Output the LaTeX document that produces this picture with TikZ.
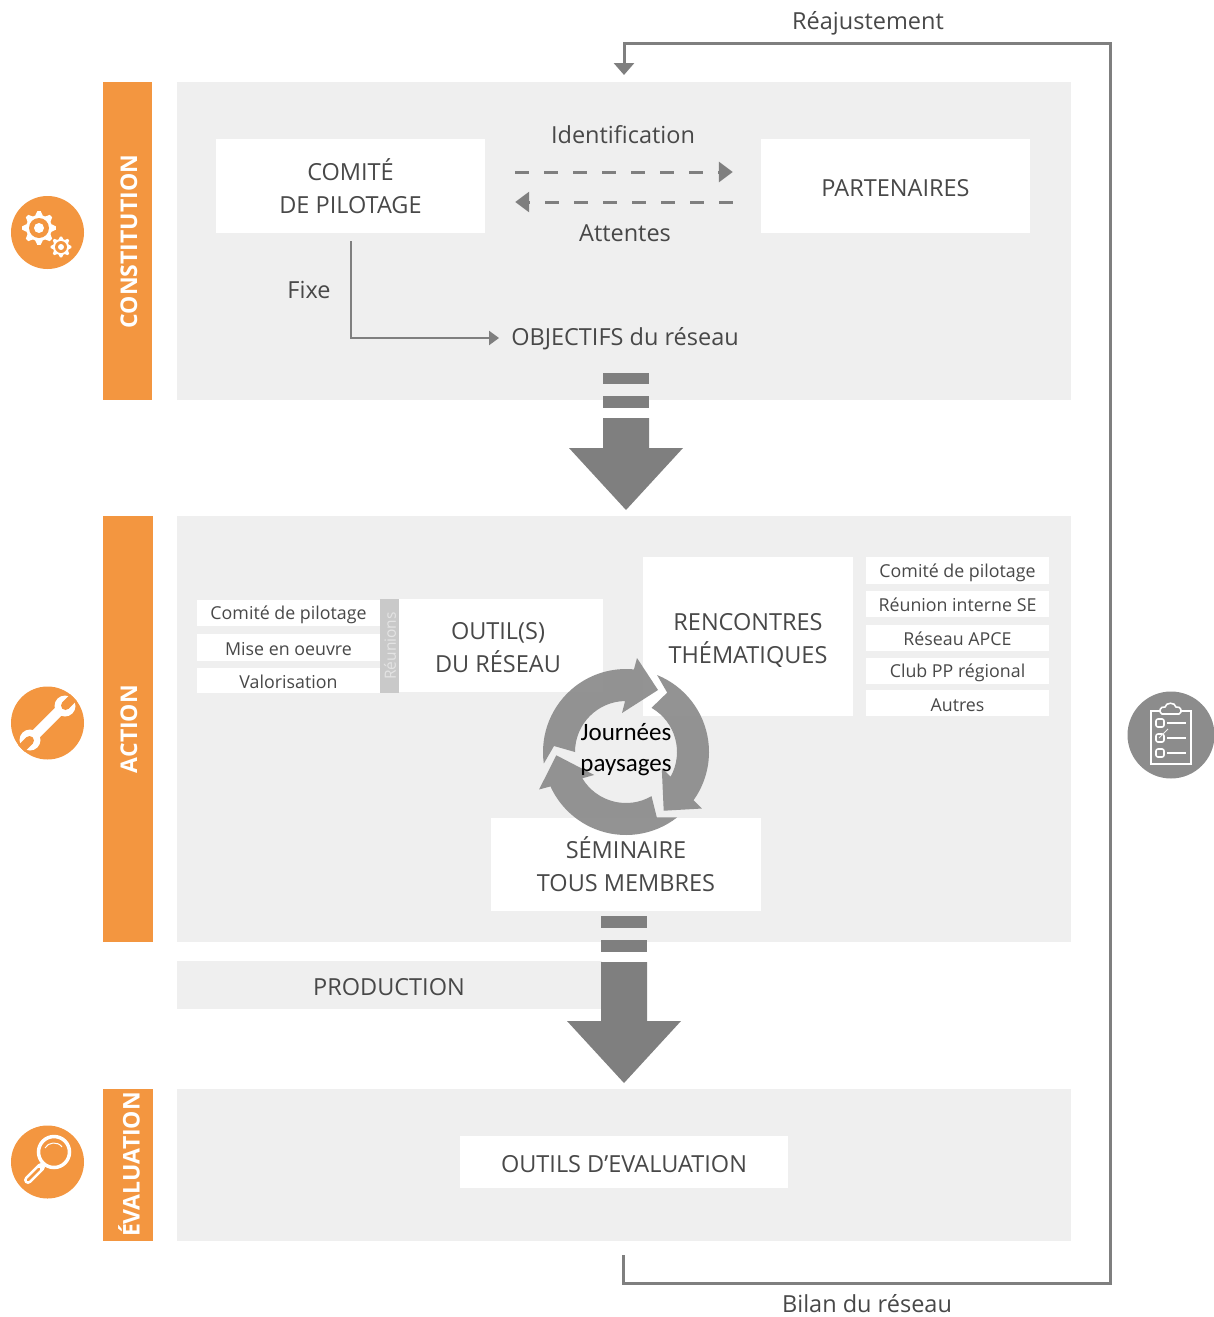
\documentclass[tikz,border=0pt]{standalone}
\usepackage{fontspec}
\setmainfont{Open Sans}
\newfontfamily\carl{Carlito}
\usetikzlibrary{arrows.meta}
\definecolor{orng}{HTML}{F39640}
\definecolor{panel}{HTML}{EFEFEF}
\definecolor{arrowgray}{HTML}{7F7F7F}
\definecolor{ringgray}{HTML}{888888}
\definecolor{txt}{HTML}{484848}
\definecolor{reun}{HTML}{C9C9C9}
\definecolor{icongray}{HTML}{8C8C8C}
\tikzset{
  big/.style={font=\fontsize{23.5}{33}\selectfont,text=txt,align=center,inner sep=0pt},
  small/.style={font=\fontsize{17.8}{22}\selectfont,text=txt,align=center,inner sep=0pt},
  whitebox/.style={fill=white,draw=none},
  greyband/.style={fill=panel,draw=none},
  bar/.style={fill=orng,draw=none},
  bartext/.style={font=\fontsize{23}{26}\selectfont\bfseries,text=white,rotate=90,inner sep=0pt},
  link/.style={draw=arrowgray,line width=3pt,-{Triangle[length=12pt,width=20pt]}},
  thinlink/.style={draw=arrowgray,line width=2pt,-{Triangle[length=10pt,width=14pt]}},
  dashlink/.style={draw=arrowgray,line width=3pt,dash pattern=on 14pt off 15pt,-{Triangle[length=14pt,width=20pt]}},
  bigarrow/.style={fill=arrowgray,draw=none},
  ringarrow/.style={fill=ringgray,draw=none,fill opacity=.9},
  iconbg/.style={fill=orng,draw=none}
}
\newcommand{\gearshape}[6]{% x y router rinner rring rhole
  \fill[white] plot[samples at={0,1,...,31},shift={(#1,#2)}] ({(mod(\x,4)<2?#3:#4)*cos(\x*11.25-5.6)},{(mod(\x,4)<2?#3:#4)*sin(\x*11.25-5.6)}) -- cycle;
  \fill[orng] (#1,#2) circle[radius=#5];
  \fill[white] (#1,#2) circle[radius=#6];
}
\begin{document}
\begin{tikzpicture}[x=1pt,y=-1pt]
\useasboundingbox (0,0) rectangle (1214,1317);
% panels
\fill[greyband] (177,82) rectangle (1071,400);
\fill[greyband] (177,516) rectangle (1071,942);
\fill[greyband] (177,1089) rectangle (1071,1241);
\fill[bar] (103,82) rectangle (152,400);
\fill[bar] (103,516) rectangle (153,942);
\fill[bar] (103,1089) rectangle (153,1241);
\node[bartext] (tc) at (129,241.5) {CONSTITUTION};
\node[bartext] (ta) at (129,729) {ACTION};
\node[bartext] (te) at (129,1164.5) {ÉVALUATION};
% top section
\node[whitebox,minimum width=269pt,minimum height=94pt] (comite) at (350.5,186) {};
\node[big] (comitet) at (350.5,186) {COMITÉ\\DE PILOTAGE};
\node[whitebox,minimum width=269pt,minimum height=94pt] (part) at (895.5,186) {};
\node[big] (partt) at (895.5,188) {PARTENAIRES};
\node[big] (ident) at (623,135) {Identification};
\node[big] (att) at (625,233.5) {Attentes};
\node[big] (fixe) at (309,290) {Fixe};
\node[big] (obj) at (625,339) {OBJECTIFS du réseau};
\draw[dashlink] ([xshift=30pt,yshift=14pt]comite.east) -- ([xshift=-28pt,yshift=14pt]part.west);
\draw[dashlink] ([xshift=-28pt,yshift=-16pt]part.west) -- ([xshift=30pt,yshift=-16pt]comite.east);
\draw[thinlink] ([yshift=-8pt]comite.south) |- ([xshift=-12pt,yshift=1pt]obj.west);
% big arrow 1
\fill[bigarrow] (603,373) rectangle (649,384);
\fill[bigarrow] (603,396) rectangle (649,408);
\fill[bigarrow] (603,418) -- (649,418) -- (649,448) -- (683,448) -- (626,510) -- (569,448) -- (603,448) -- cycle;
% action boxes
\node[whitebox,minimum width=204pt,minimum height=93pt] (outil) at (501,645.5) {};
\node[big] (outilt) at (498,647.5) {OUTIL(S)\\DU RÉSEAU};
\fill[reun] (380,599) rectangle (399,693);
\node[font=\fontsize{15.5}{18}\selectfont,text=white!50!reun,rotate=90,inner sep=0pt] (reunions) at (390,646) {Réunions};
\foreach \n/\y/\h/\t in {a/613/26/Comité de pilotage,b/647.5/27/Mise en oeuvre,c/680.5/25/Valorisation}{
  \node[whitebox,minimum width=183pt,minimum height=\h pt] (l\n) at (288.5,\y) {};
  \node[small] (lt\n) at (288.5,\y+1.5) {\t};
}
\node[whitebox,minimum width=210pt,minimum height=159pt] (renc) at (748,636.5) {};
\node[big] (renct) at (748,640) {RENCONTRES\\THÉMATIQUES};
\foreach \n/\y/\h/\tx/\t in {a/570.5/27/572.5/Comité de pilotage,b/604/26/604.5/Réunion interne SE,c/638/26/639/Réseau APCE,d/671/26/673/Club PP régional,e/703/26/705/Autres}{
  \node[whitebox,minimum width=183pt,minimum height=\h pt] (r\n) at (957.5,\y) {};
  \node[small] (rt\n) at (957.5,\tx) {\t};
}
\node[whitebox,minimum width=270pt,minimum height=93pt] (sem) at (626,864.5) {};
% ring
\foreach \a in {0,-120,-240}{
  \begin{scope}[shift={(626,752)},rotate=\a,x=1pt,y=1pt]
    \fill[ringarrow] (188:83) arc[start angle=188,end angle=84.5,radius=83] -- (11,94) -- (32,62) -- (-4,39) -- (91:51) arc[start angle=91,end angle=180,radius=51] -- (-72,6) -- cycle;
  \end{scope}
}
\node[big] (semt) at (626,864) {SÉMINAIRE\\TOUS MEMBRES};
\node[font=\carl\fontsize{25}{31}\selectfont,text=black,align=center,inner sep=0pt] (jp) at (626,750) {Journées\\paysages};
% production
\fill[greyband] (177,961) rectangle (602,1009);
\node[big] (prod) at (389,987) {PRODUCTION};
% big arrow 2
\fill[bigarrow] (601,916) rectangle (647,928);
\fill[bigarrow] (601,940) rectangle (647,952);
\fill[bigarrow] (601,962) -- (647,962) -- (647,1021) -- (681,1021) -- (624,1083) -- (567,1021) -- (601,1021) -- cycle;
% evaluation
\node[whitebox,minimum width=328pt,minimum height=52pt] (oute) at (624,1162) {};
\node[big] (outet) at (624,1164) {OUTILS D’EVALUATION};
% feedback
\coordinate (fbstart) at (623,1255);
\coordinate (fbend) at (624,75);
\node[big] (reaj) at (868,23.5) {Réajustement};
\node[big] (bilan) at (867,1304) {Bilan du réseau};
\draw[link] (fbstart) -- (623,1283) -- (1110,1283) -- (1110,43) -- (624,43) -- (fbend);
% gears icon
\fill[iconbg] (47.5,232.5) circle[radius=36.5];
\gearshape{39}{228}{17}{13}{10}{5}
\gearshape{61}{247}{10.5}{8}{6}{3}
% wrench icon
\fill[iconbg] (47.5,723) circle[radius=36.5];
\draw[white,line width=10pt] (32,738) -- (62,708);
\fill[white] (65,706) circle[radius=10.5];
\fill[white] (30,740) circle[radius=10.5];
\draw[orng,line width=9pt] (65.5,705.5) -- (73.5,697.5);
\fill[orng] (65.5,705.5) circle[radius=4.5];
\draw[orng,line width=9pt] (29.5,740.5) -- (21.5,748.5);
\fill[orng] (29.5,740.5) circle[radius=4.5];
% magnifier icon
\fill[iconbg] (47.5,1162) circle[radius=36.5];
\draw[white,line width=3.5pt] (54,1152) circle[radius=15.5];
\draw[white,line width=1pt] (45,1148) .. controls (48,1142) and (58,1141) .. (62,1147);
\draw[white,line width=8pt,line cap=round] (28,1180) -- (41,1167);
\draw[orng,line width=2.5pt,line cap=round] (28,1180) -- (39,1169);
\draw[white,line width=3pt] (41,1167) -- (45,1163);
% clipboard icon
\fill[icongray] (1171,735) circle[radius=43.5];
\begin{scope}[draw=white,line width=1.6pt]
  \draw (1160,711) -- (1151,711) -- (1151,764) -- (1191,764) -- (1191,711) -- (1181,711);
  \draw (1162,714) .. controls (1158,712) and (1160,706) .. (1165,707) .. controls (1166,702) and (1175,702) .. (1176,707) .. controls (1181,706) and (1183,712) .. (1179,714) -- cycle;
  \foreach \y in {723,738,753}{
    \draw[rounded corners=2pt] (1156,\y-4) rectangle (1164,\y+4);
    \draw[line width=2pt] (1167,\y) -- (1186,\y);
  }
  \draw[line width=1pt,white!85!icongray] (1159,738) -- (1168,729);
\end{scope}
\end{tikzpicture}
\end{document}
